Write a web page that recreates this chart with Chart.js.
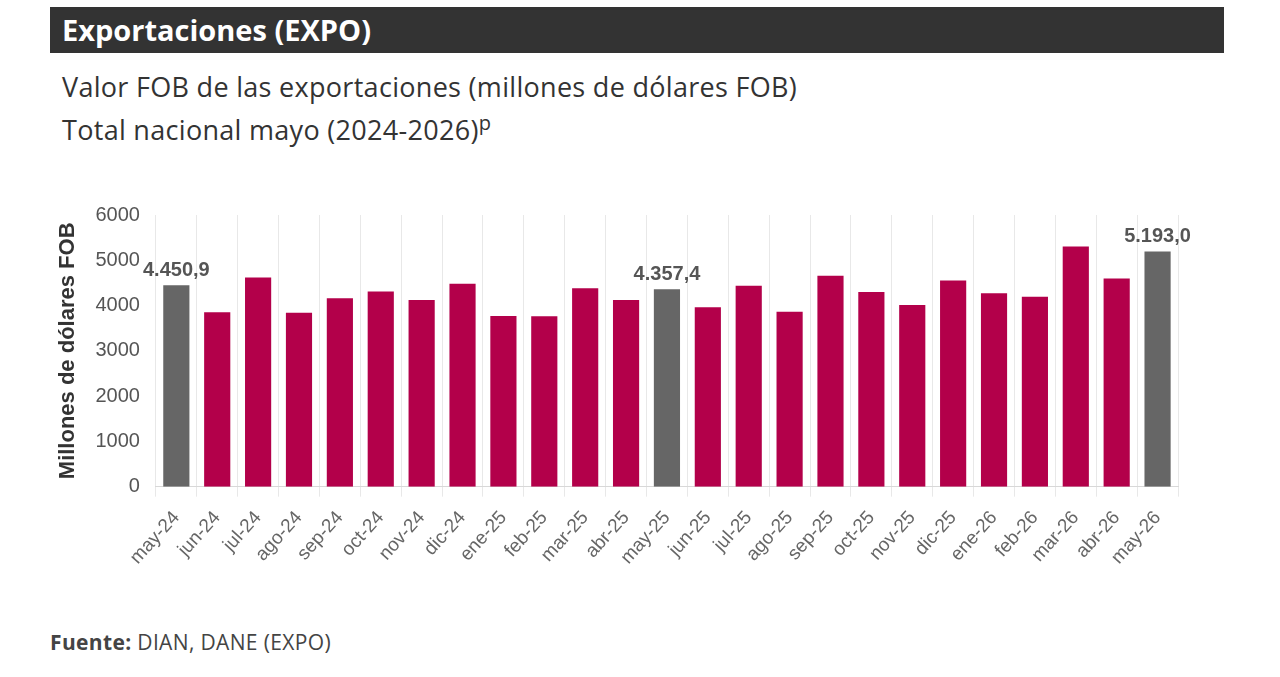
<!DOCTYPE html>
<html>
<head>
<meta charset="utf-8">
<script src="https://cdn.jsdelivr.net/npm/chart.js@4"></script>
<style>
  body { margin: 0; background: #fff; font-family: "Open Sans", sans-serif; }
  #header { position: absolute; left: 50px; top: 7px; width: 1174px; height: 46px; background: #333333; }
  #header span { position: absolute; left: 12px; top: 0; line-height: 46px; color: #fff; font-weight: bold; font-size: 29px; }
  .sub { position: absolute; left: 62px; color: #333; font-size: 27px; line-height: 34px; letter-spacing: 0.3px; white-space: nowrap; }
  .sub sup { font-size: 20px; }
  #source { position: absolute; left: 50px; top: 628px; color: #444; font-size: 21px; line-height: 28px; letter-spacing: 0.35px; }
  #chart { position: absolute; left: 50px; top: 190px; }
</style>
</head>
<body>
<div id="header"><span>Exportaciones (EXPO)</span></div>
<div class="sub" style="top:70px">Valor FOB de las exportaciones (millones de dólares FOB)</div>
<div class="sub" style="top:106px">Total nacional mayo (2024-2026)<sup>p</sup></div>
<canvas id="chart" width="1150" height="389"></canvas>
<div id="source"><b>Fuente:</b> DIAN, DANE (EXPO)</div>

<script>
const months = ['may-24', 'jun-24', 'jul-24', 'ago-24', 'sep-24', 'oct-24', 'nov-24', 'dic-24',
    'ene-25', 'feb-25', 'mar-25', 'abr-25', 'may-25', 'jun-25', 'jul-25', 'ago-25', 'sep-25',
    'oct-25', 'nov-25', 'dic-25', 'ene-26', 'feb-26', 'mar-26', 'abr-26', 'may-26'];

const exportValues = [4450.9, 3851, 4619, 3843, 4161, 4309, 4124, 4479,
    3769, 3765, 4384, 4124, 4357.4, 3962, 4435, 3865, 4656,
    4302, 4013, 4552, 4272, 4197, 5306, 4597, 5193.0];

const yTicks = [0, 1000, 2000, 3000, 4000, 5000, 6000];

// the "may" bars are grey and carry a value label
const isMay = months.map(m => m.startsWith('may'));

function formatEs(v) {
    const parts = v.toFixed(1).split('.');
    return parts[0].replace(/\B(?=(\d{3})+(?!\d))/g, '.') + ',' + parts[1];
}

const valueLabels = {
    id: 'valueLabels',
    afterDatasetsDraw(chart) {
        const ctx = chart.ctx;
        const meta = chart.getDatasetMeta(0);
        ctx.save();
        ctx.font = 'bold 20px "Liberation Sans", Arial, sans-serif';
        ctx.fillStyle = '#555';
        ctx.textAlign = 'center';
        ctx.textBaseline = 'bottom';
        meta.data.forEach(function(bar, i) {
            if (!isMay[i]) return;
            ctx.fillText(formatEs(exportValues[i]), bar.x, bar.y - 5);
        });
        ctx.restore();
    }
};

new Chart(document.getElementById('chart').getContext('2d'), {
    type: 'bar',
    data: {
        labels: months,
        datasets: [{
            data: exportValues,
            backgroundColor: isMay.map(g => g ? '#666666' : '#B3004A'),
            categoryPercentage: 0.8,
            barPercentage: 0.8
        }]
    },
    options: {
        responsive: false,
        animation: false,
        layout: { padding: { left: 5, right: 22, top: 25, bottom: 0 } },
        plugins: {
            legend: { display: false },
            tooltip: { enabled: false }
        },
        scales: {
            x: {
                grid: { color: '#e8e8e8', tickLength: 10, offset: true },
                border: { color: '#d8d8d8' },
                ticks: {
                    color: '#666',
                    padding: 10,
                    font: { family: '"Liberation Sans", Arial, sans-serif', size: 19 },
                    minRotation: 48,
                    maxRotation: 48
                }
            },
            y: {
                min: 0,
                max: 6000,
                afterBuildTicks(axis) {
                    axis.ticks = yTicks.map(v => ({ value: v }));
                },
                grid: { display: false },
                border: { display: false },
                ticks: {
                    color: '#555',
                    padding: 8,
                    font: { family: '"Liberation Sans", Arial, sans-serif', size: 20 },
                    callback: v => String(v)
                },
                title: {
                    display: true,
                    text: 'Millones de dólares FOB',
                    color: '#333',
                    font: { family: '"Liberation Sans", Arial, sans-serif', size: 22, weight: 'bold' },
                    padding: { top: 0, bottom: 6 }
                }
            }
        }
    },
    plugins: [valueLabels]
});
</script>
</body>
</html>
